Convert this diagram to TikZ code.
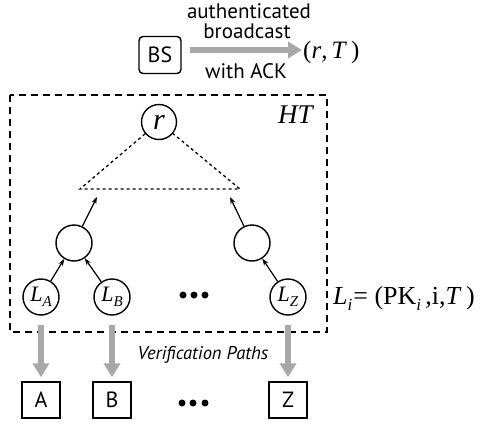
\documentclass[tikz,border=0pt]{standalone}
\usepackage{fontspec}
\setmainfont{Liberation Serif}
\setsansfont{PT Sans}
\usetikzlibrary{arrows.meta}
\definecolor{arrowgray}{RGB}{168,168,168}
\begin{document}
\begin{tikzpicture}[x=1pt,y=-1pt,
  circ/.style={circle,draw,line width=1.4pt,minimum size=36pt,inner sep=0pt,font=\fontsize{22}{22}\selectfont\itshape},
  sqbox/.style={draw,line width=1.4pt,minimum width=38pt,minimum height=36pt,inner sep=0pt,font=\sffamily\fontsize{22}{22}\selectfont},
  tarrow/.style={-{Stealth[length=7pt,width=5pt]},line width=1.2pt},
  garrow/.style={-{Triangle[length=14pt,width=16pt]},line width=6pt,draw=arrowgray},
  dotline/.style={line width=1.3pt,dash pattern=on 3pt off 3pt},
  dashbox/.style={line width=1.4pt,dash pattern=on 7pt off 5pt},
  lbl/.style={font=\sffamily\fontsize{21}{21}\selectfont,inner sep=0pt,anchor=base}
]
\useasboundingbox (0,0) rectangle (491,426);
% top
\node[draw,line width=1.4pt,rounded corners=4pt,minimum width=42pt,minimum height=37pt,inner sep=0pt,font=\sffamily\fontsize{22}{22}\selectfont] (bs) at (160,55) {BS};
\coordinate (rt) at (302,50);
\node[anchor=west,inner sep=0pt,font=\fontsize{25}{25}\selectfont] (rT) at (303,52) {(\textit{r},\,\textit{T}\,)};
\draw[garrow] (bs.east |- rt) ++(8,0) coordinate (bse) -- (rt);
\node[lbl] (t1) at (249,18) {authenticated};
\node[lbl] (t2) at (247,38) {broadcast};
\node[lbl] (t3) at (246,78) {with ACK};
% dashed box
\draw[dashbox] (10,95) rectangle (327,332);
\node[font=\fontsize{27}{27}\selectfont\itshape,inner sep=0pt,anchor=base west] (ht) at (278,123) {HT};
% tree
\node[circ,minimum size=35pt,font=\fontsize{30}{30}\selectfont\itshape] (r) at (159,122) {r};
\coordinate (tl) at (80,189);
\coordinate (tr) at (240,189);
\draw[dotline] (r) -- (tl) -- (tr) -- (r);
\node[circ] (ml) at (74,243) {};
\node[circ] (mr) at (252,243) {};
\coordinate (pl) at (97,197);
\coordinate (pr) at (230,197);
\draw[tarrow] (ml) -- (pl);
\draw[tarrow] (mr) -- (pr);
\node[circ] (la) at (41,297) {L\raisebox{-5pt}{\fontsize{15}{15}\selectfont A}};
\node[circ] (lb) at (112,297) {L\raisebox{-5pt}{\fontsize{15}{15}\selectfont B}};
\node[circ] (lz) at (288,297) {L\raisebox{-5pt}{\fontsize{15}{15}\selectfont Z}};
\draw[tarrow] (la) -- (ml);
\draw[tarrow] (lb) -- (ml);
\draw[tarrow] (lz) -- (mr);
\foreach \x in {183,194,205} \fill (\x,295) circle (3.5pt);
\node[anchor=base west,inner sep=0pt,font=\fontsize{26}{26}\selectfont] (li) at (333,304) {\textit{L}\raisebox{-6pt}{\fontsize{17}{17}\selectfont\textit{i}}\kern1pt= (PK\raisebox{-6pt}{\fontsize{17}{17}\selectfont\textit{i}}\,,i,\textit{T}\,)};
% bottom
\node[sqbox] (a) at (41,400) {A};
\node[sqbox] (b) at (112,400) {B};
\node[sqbox] (z) at (288,400) {Z};
\draw[garrow,shorten <=9pt,shorten >=4pt] (la) -- (a);
\draw[garrow,shorten <=9pt,shorten >=4pt] (lb) -- (b);
\draw[garrow,shorten <=9pt,shorten >=4pt] (lz) -- (z);
\node[font=\sffamily\itshape\fontsize{18.5}{18.5}\selectfont,inner sep=0pt] (vp) at (203,355) {Verification Paths};
\foreach \x in {182,193,205} \fill (\x,403) circle (3.5pt);
\end{tikzpicture}
\end{document}
